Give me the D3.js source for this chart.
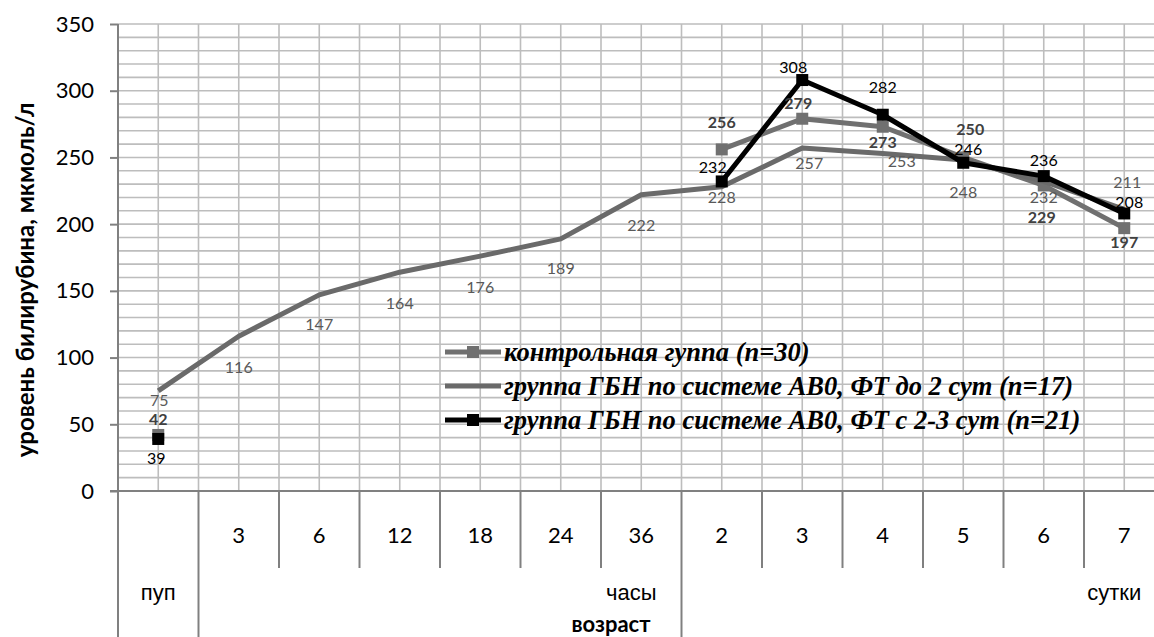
<!DOCTYPE html>
<html>
<head>
<meta charset="utf-8">
<script src="https://cdn.jsdelivr.net/npm/d3@7"></script>
<style>
  html, body { margin: 0; padding: 0; background: #fff; }
  svg { display: block; }
</style>
</head>
<body>
<svg id="chart" width="1154" height="637"></svg>
<script>
// ---------- data ----------
const categories = ["пуп", "3", "6", "12", "18", "24", "36", "2", "3", "4", "5", "6", "7"];
const groupLabels = ["пуп", "часы", "сутки"];
const groupStarts = [0, 1, 7];
const groupEnds = [0, 6, 12];
const yTicks = [0, 50, 100, 150, 200, 250, 300, 350];

const seriesNames = [
  "контрольная гуппа (n=30)",
  "группа ГБН по системе АВ0, ФТ до 2 сут (n=17)",
  "группа ГБН по системе АВ0, ФТ с 2-3 сут (n=21)"
];
const controlValues = [42, null, null, null, null, null, null, 256, 279, 273, 250, 229, 197];
const ftEarlyValues = [75, 116, 147, 164, 176, 189, 222, 228, 257, 253, 248, 232, 211];
const ftLateValues = [39, null, null, null, null, null, null, 232, 308, 282, 246, 236, 208];

// ---------- layout / style (not data) ----------
const W = 1154, H = 637;
const plotLeft = 118, plotTop = 24, baseY = 491, catW = 80.5;
const labelOffsets = {
  control: [[0,-16],null,null,null,null,null,null,[0,-27],[-4,-15],[0,16],[7,-28],[-2,32],[0,14]],
  ftEarly: [[1,9],[0,31],[0,30],[0,31],[0,31],[0,30],[0,31],[0,11],[7,15],[19,8],[0,32],[0,16],[3,-27]],
  ftLate:  [[-2,19],null,null,null,null,null,null,[-9,-14],[-9,-13],[0,-27],[5,-13],[0,-16],[5,-11]]
};
const styles = [
  {key: "control", values: controlValues, color: "#707070", marker: true, labelColor: "#404040", labelWeight: "bold"},
  {key: "ftEarly", values: ftEarlyValues, color: "#6a6a6a", marker: false, labelColor: "#595959", labelWeight: "normal"},
  {key: "ftLate", values: ftLateValues, color: "#000000", marker: true, labelColor: "#000000", labelWeight: "normal"}
];
const sansFont = "Lato, 'Open Sans', sans-serif";

const svg = d3.select("#chart");
const idx = d3.range(categories.length);

const x = d3.scaleBand().domain(idx).range([plotLeft, plotLeft + catW * categories.length]).padding(0);
const y = d3.scaleLinear().domain([0, 350]).range([baseY, plotTop]);
const cx = i => x(i) + x.bandwidth() / 2;

// ---------- grid ----------
const grid = svg.append("g").attr("stroke", "#bdbdbd").attr("stroke-width", 1.6);
d3.range(10, 351, 10).forEach(v => {
  grid.append("line").attr("x1", plotLeft).attr("x2", W).attr("y1", y(v)).attr("y2", y(v));
});
idx.forEach(i => {
  [x(i) + x.bandwidth() / 2, x(i) + x.bandwidth()].forEach(gx => {
    grid.append("line").attr("x1", gx).attr("x2", gx).attr("y1", plotTop).attr("y2", baseY);
  });
});

// ---------- y axis ----------
const yAxis = d3.axisLeft(y).tickValues(yTicks).tickSize(8).tickPadding(16);
const yg = svg.append("g").attr("transform", `translate(${plotLeft},0)`).call(yAxis);
yg.select(".domain").remove();
yg.selectAll(".tick line").attr("stroke", "#808080").attr("stroke-width", 2);
yg.selectAll(".tick text").attr("font-family", sansFont).attr("font-size", 22).attr("fill", "#000");
svg.append("line").attr("x1", plotLeft).attr("x2", plotLeft).attr("y1", plotTop).attr("y2", H)
  .attr("stroke", "#808080").attr("stroke-width", 2);
svg.append("line").attr("x1", plotLeft - 8).attr("x2", W).attr("y1", baseY).attr("y2", baseY)
  .attr("stroke", "#808080").attr("stroke-width", 2);

// ---------- x axis (two levels) ----------
const xg = svg.append("g");
idx.forEach(i => {
  if (i === 0) return;
  xg.append("text").attr("x", cx(i)).attr("y", 535).attr("dy", "0.35em")
    .attr("text-anchor", "middle").attr("font-family", sansFont)
    .attr("font-size", 22).attr("fill", "#000").text(categories[i]);
});
idx.forEach(i => {
  const bx = x(i) + x.bandwidth();
  const full = groupEnds.includes(i);
  xg.append("line").attr("x1", bx).attr("x2", bx).attr("y1", baseY).attr("y2", full ? H : 568)
    .attr("stroke", "#808080").attr("stroke-width", 2);
});
groupLabels.forEach((g, k) => {
  const last = groupEnds[k];
  const shift = k === 0 ? 0 : -10;
  xg.append("text").attr("x", cx(last) + shift).attr("y", 592).attr("dy", "0.35em")
    .attr("text-anchor", "middle").attr("font-family", "'Liberation Sans', Arial, sans-serif")
    .attr("font-size", 22).attr("fill", "#000").text(g);
});

// axis titles
svg.append("text").attr("x", 611).attr("y", 624).attr("dy", "0.35em").attr("text-anchor", "middle")
  .attr("font-family", sansFont).attr("font-weight", "bold").attr("font-size", 22)
  .attr("fill", "#000").text("возраст");
svg.append("text").attr("transform", "translate(26,280) rotate(-90)").attr("dy", "0.35em").attr("text-anchor", "middle")
  .attr("font-family", sansFont).attr("font-weight", "bold").attr("font-size", 24)
  .attr("fill", "#000").text("уровень билирубина, мкмоль/л");

// ---------- series ----------
const line = d3.line().defined(d => d.v != null).x(d => cx(d.i)).y(d => y(d.v));
const ms = 12;
styles.forEach(s => {
  const pts = s.values.map((v, i) => ({v, i}));
  svg.append("path").datum(pts).attr("d", line).attr("fill", "none")
    .attr("stroke", s.color).attr("stroke-width", 5).attr("stroke-linejoin", "round");
  if (s.marker) {
    svg.append("g").selectAll("rect").data(pts.filter(d => d.v != null)).join("rect")
      .attr("x", d => cx(d.i) - ms / 2).attr("y", d => y(d.v) - ms / 2)
      .attr("width", ms).attr("height", ms).attr("fill", s.color);
  }
});
styles.forEach(s => {
  const pts = s.values.map((v, i) => ({v, i})).filter(d => d.v != null);
  svg.append("g").selectAll("text").data(pts).join("text")
    .attr("x", d => cx(d.i) + labelOffsets[s.key][d.i][0])
    .attr("y", d => y(d.v) + labelOffsets[s.key][d.i][1])
    .attr("dy", "0.35em").attr("text-anchor", "middle")
    .attr("font-family", sansFont).attr("font-size", 16)
    .attr("font-weight", s.labelWeight).attr("fill", s.labelColor)
    .text(d => d.v);
});

// ---------- legend ----------
const lg = svg.append("g");
const legendY = [352, 386, 420];
styles.forEach((s, k) => {
  const ly = legendY[k];
  lg.append("line").attr("x1", 445).attr("x2", 501).attr("y1", ly).attr("y2", ly)
    .attr("stroke", s.color).attr("stroke-width", 5);
  if (s.marker) {
    lg.append("rect").attr("x", 473 - ms / 2).attr("y", ly - ms / 2).attr("width", ms).attr("height", ms).attr("fill", s.color);
  }
  lg.append("text").attr("x", 504).attr("y", ly).attr("dy", "0.35em")
    .attr("font-family", "'Liberation Serif', 'Times New Roman', serif").attr("font-style", "italic")
    .attr("font-weight", "bold").attr("font-size", 26.5).attr("fill", "#000").text(seriesNames[k]);
});
</script>
</body>
</html>
